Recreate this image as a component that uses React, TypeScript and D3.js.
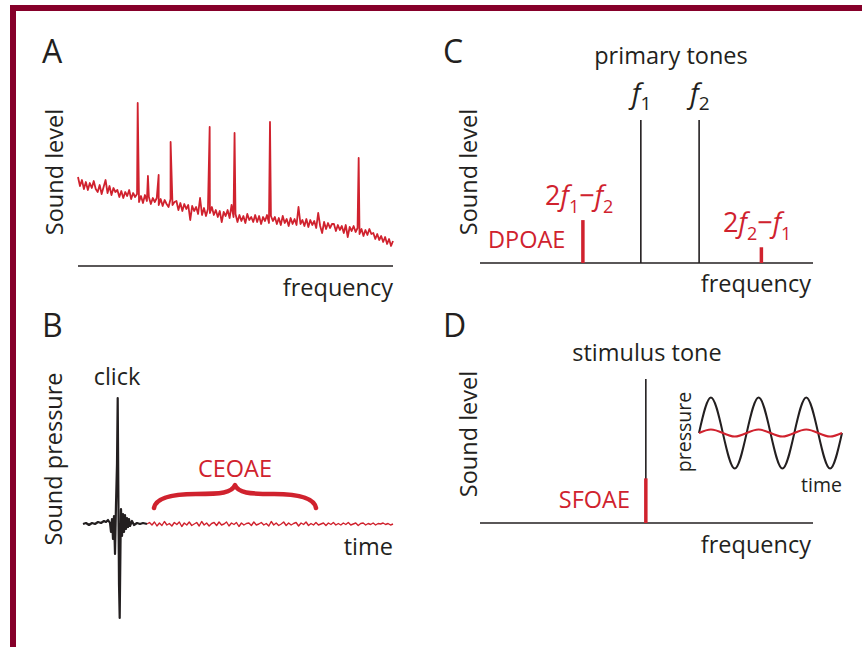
import React from 'react';
import * as d3 from 'd3';

const RED = '#d0222e';
const INK = '#231f20';
const MAROON = '#86002a';
const FONT = "'Open Sans', 'Noto Sans', sans-serif";

// ---------- Panel A: spontaneous emission spectrum ----------
const spectrumFreqStep = 0.625;
const spectrumNoise = [
  89, 80, 86, 77, 84, 76, 83, 78, 85, 77,
  74, 81, 72, 79, 86, 73, 80, 71, 78, 74,
  76, 69, 75, 68, 74, 70, 76, 67, 73, 69,
  72, 64, 70, 63, 71, 65, 69, 62, 68, 64,
  68, 61, 67, 60, 66, 62, 59, 67, 61, 64,
  65, 56, 63, 55, 62, 57, 61, 46, 60, 55,
  59, 52, 68, 51, 58, 50, 57, 53, 59, 51,
  56, 49, 55, 44, 54, 50, 56, 48, 61, 49,
  52, 44, 51, 45, 50, 43, 52, 46, 49, 44,
  51, 44, 50, 42, 49, 45, 51, 43, 50, 45,
  49, 42, 48, 41, 50, 43, 47, 40, 48, 42,
  47, 41, 59, 42, 46, 40, 47, 39, 46, 41,
  45, 38, 53, 40, 33, 44, 37, 43, 38, 42,
  42, 35, 41, 36, 40, 33, 41, 29, 39, 35,
  40, 34, 38, 32, 37, 30, 36, 31, 37, 32,
  33, 27, 32, 26, 30, 24, 29, 22, 27, 20, 25,
];
const spectrumPeakFreq = [18.95, 22.2, 25.6, 29.4, 41.8, 49.7, 60.95, 89.1];
const spectrumPeakLevel = [163, 90, 91, 124, 139, 133, 144, 108];

// ---------- Panel B: click-evoked emission ----------
const clickTime = [0, 3, 6, 9, 12, 15, 18, 21, 23, 25, 27, 28, 29, 30, 31, 32, 33, 34, 34.7, 35.3, 36, 36.7, 37.5, 38, 39, 40, 41, 42, 43, 44, 45, 46, 47, 49, 51, 54, 57, 60, 64];
const clickPressure = [0, 1, -1, 1, 0, 2, 1, 3, 2, 4, 1, -8, 5, -15, 8, -30, 20, 60, 126, 40, -60, -94, -20, 15, -12, 10, -8, 9, -5, 6, -3, 5, -2, 3, -1, 1, 0, 1, 0];
const ceoaeStartTime = 64;
const ceoaeTimeStep = 2.485;
const ceoaePressure = [
  0, 1.5, -1, 2, -2, 1, -1.5, 2.5, -1, 0.5, -2, 1.5, -0.5, 2, -2.5, 1, -1, 2, -1.5, 0,
  1.5, -2, 2.5, -1, 1, -2, 0.5, 1.5, -1.5, 2, -1, 0, 2, -2, 1, -0.5, 1.5, -2.5, 1, -1,
  0.5, 1, -1.5, 2, -1, 0, 1.5, -1, 0.5, -2, 2.5, -1, 1, -1.5, 0, 2, -1.5, 1, -1, 0.5,
  1.5, -2, 1, -0.5, 2, -1.5, 0.5, -1, 1.5, -1, 0, 1, -1.5, 1, -0.5, 1.5, -1, 0.5, -1, 1,
  -0.5, 1.5, -1, 0, 1, -1.5, 0.5, 1, -1, 0.5, -0.5, 1, -1, 0.5, 0, 1, -0.5, 0.5, -1, 0,
];
const ceoaeBraceTime = [71, 233];

// ---------- Panel C: distortion products ----------
const primaryNames = ['1', '2'];
const primaryFreq = [48.3, 65.8];
const primaryLevel = [100, 100];
const dpFreq = [30.9, 84.5];
const dpLevel = [30, 11];

// ---------- Panel D: stimulus-frequency emission ----------
const stimulusFreq = 49.8;
const stimulusLevel = 100;
const sfoaeLevel = 31;
const waveQuarter = [0, 1, 2, 3, 4, 5, 6, 7, 8, 9, 10, 11, 12];
const stimulusWave = [0, 1, 0, -1, 0, 1, 0, -1, 0, 1, 0, -1, 0];
const sfoaeWave = [0, 0.1, 0, -0.1, 0, 0.1, 0, -0.1, 0, 0.1, 0, -0.1, 0];

const txt = { fontFamily: FONT, fontSize: 23.5, fill: INK } as const;

export default function App() {
  // A
  const xA = d3.scaleLinear().domain([0, 100]).range([78, 393]);
  const yA = d3.scaleLinear().domain([0, 170]).range([266, 96]);
  const specPts: [number, number][] = spectrumNoise.map((v, i) => [i * spectrumFreqStep, v]);
  spectrumPeakFreq.forEach((f, i) => specPts.push([f, spectrumPeakLevel[i]]));
  specPts.sort((a, b) => a[0] - b[0]);
  const lineA = d3.line<[number, number]>().x(d => xA(d[0])).y(d => yA(d[1]));

  // B
  const xB = d3.scaleLinear().domain([0, 310]).range([83, 393]);
  const yB = d3.scaleLinear().domain([-100, 130]).range([624, 394]);
  const clickPts: [number, number][] = clickTime.map((t, i) => [t, clickPressure[i]]);
  const ceoaePts: [number, number][] = ceoaePressure.map((p, i) => [ceoaeStartTime + i * ceoaeTimeStep, p]);
  const lineB = d3.line<[number, number]>().x(d => xB(d[0])).y(d => yB(d[1]));
  const bx0 = xB(ceoaeBraceTime[0]);
  const bx1 = xB(ceoaeBraceTime[1]);
  const bm = (bx0 + bx1) / 2;
  const by = yB(16);
  const brace = `M${bx0},${by} C${bx0 + 2},${by - 11} ${bx0 + 20},${by - 14} ${bx0 + 42},${by - 14} C${bm - 14},${by - 14} ${bm - 3},${by - 15} ${bm},${by - 23} C${bm + 3},${by - 15} ${bm + 14},${by - 14} ${bx1 - 42},${by - 14} C${bx1 - 20},${by - 14} ${bx1 - 2},${by - 11} ${bx1},${by}`;

  // C
  const xC = d3.scaleLinear().domain([0, 100]).range([480, 813]);
  const yC = d3.scaleLinear().domain([0, 100]).range([263, 120]);

  // D
  const xD = d3.scaleLinear().domain([0, 100]).range([480, 813]);
  const yD = d3.scaleLinear().domain([0, 100]).range([523, 379]);
  const xW = d3.scaleLinear().domain([0, 12]).range([699, 842]);
  const yW = d3.scaleLinear().domain([-1, 1]).range([468.5, 397.5]);
  const waveLine = d3.line<number>().x((_, i) => xW(waveQuarter[i])).y(d => yW(d)).curve(d3.curveNatural);

  return (
    <svg width={862} height={647} style={{ position: 'absolute', left: 0, top: 0, background: '#fff' }}>
      {/* border */}
      <rect x={10} y={5} width={852} height={6} fill={MAROON} />
      <rect x={10} y={5} width={6} height={642} fill={MAROON} />

      {/* panel letters */}
      <text x={42} y={63} style={{ ...txt, fontSize: 32 }}>A</text>
      <text x={42} y={337} style={{ ...txt, fontSize: 32 }}>B</text>
      <text x={443} y={63} style={{ ...txt, fontSize: 32 }}>C</text>
      <text x={443} y={337} style={{ ...txt, fontSize: 32 }}>D</text>

      {/* ---------- A ---------- */}
      <text transform="translate(63,172) rotate(-90)" textAnchor="middle" style={txt}>Sound level</text>
      <line x1={xA.range()[0]} x2={xA.range()[1]} y1={yA(0)} y2={yA(0)} stroke={INK} strokeWidth={1.5} />
      <path d={lineA(specPts) || ''} fill="none" stroke={RED} strokeWidth={1.8} strokeLinejoin="round" />
      <text x={393} y={296} textAnchor="end" style={txt}>frequency</text>

      {/* ---------- B ---------- */}
      <text transform="translate(62,459) rotate(-90)" textAnchor="middle" style={txt}>Sound pressure</text>
      <text x={117} y={385} textAnchor="middle" style={txt}>click</text>
      <path d={lineB(ceoaePts) || ''} fill="none" stroke={RED} strokeWidth={1.4} strokeLinejoin="round" />
      <path d={lineB(clickPts) || ''} fill="none" stroke={INK} strokeWidth={2.2} strokeLinejoin="round" />
      <path d={brace} fill="none" stroke={RED} strokeWidth={4.5} strokeLinecap="round" strokeLinejoin="round" />
      <text x={235} y={477} textAnchor="middle" style={{ ...txt, fill: RED }}>CEOAE</text>
      <text x={393} y={555} textAnchor="end" style={txt}>time</text>

      {/* ---------- C ---------- */}
      <text transform="translate(477,172) rotate(-90)" textAnchor="middle" style={txt}>Sound level</text>
      <text x={671} y={64} textAnchor="middle" style={txt}>primary tones</text>
      <line x1={xC.range()[0]} x2={xC.range()[1]} y1={yC(0)} y2={yC(0)} stroke={INK} strokeWidth={1.5} />
      {primaryFreq.map((f, i) => (
        <g key={i}>
          <line x1={xC(f)} x2={xC(f)} y1={yC(0)} y2={yC(primaryLevel[i])} stroke={INK} strokeWidth={1.6} />
          <text x={xC(f) - 9} y={103} style={{ ...txt, fontSize: 28 }}>
            <tspan fontStyle="italic">f</tspan>
            <tspan fontSize={19} dy={7}>{primaryNames[i]}</tspan>
          </text>
        </g>
      ))}
      {dpFreq.map((f, i) => (
        <line key={i} x1={xC(f)} x2={xC(f)} y1={yC(0)} y2={yC(dpLevel[i])} stroke={RED} strokeWidth={3.5} />
      ))}
      <text x={545} y={205} style={{ ...txt, fill: RED, fontSize: 27 }}>
        2<tspan fontStyle="italic">f</tspan>
        <tspan fontSize={18} dy={8}>1</tspan>
        <tspan dy={-8}>−</tspan>
        <tspan fontStyle="italic">f</tspan>
        <tspan fontSize={18} dy={8}>2</tspan>
      </text>
      <text x={723} y={232} style={{ ...txt, fill: RED, fontSize: 27 }}>
        2<tspan fontStyle="italic">f</tspan>
        <tspan fontSize={18} dy={8}>2</tspan>
        <tspan dy={-8}>−</tspan>
        <tspan fontStyle="italic">f</tspan>
        <tspan fontSize={18} dy={8}>1</tspan>
      </text>
      <text x={488} y={248} style={{ ...txt, fill: RED }}>DPOAE</text>
      <text x={811} y={292} textAnchor="end" style={txt}>frequency</text>

      {/* ---------- D ---------- */}
      <text transform="translate(477,434) rotate(-90)" textAnchor="middle" style={txt}>Sound level</text>
      <text x={647} y={361} textAnchor="middle" style={txt}>stimulus tone</text>
      <line x1={xD.range()[0]} x2={xD.range()[1]} y1={yD(0)} y2={yD(0)} stroke={INK} strokeWidth={1.5} />
      <line x1={xD(stimulusFreq)} x2={xD(stimulusFreq)} y1={yD(0)} y2={yD(stimulusLevel)} stroke={INK} strokeWidth={1.6} />
      <line x1={xD(stimulusFreq)} x2={xD(stimulusFreq)} y1={yD(0)} y2={yD(sfoaeLevel)} stroke={RED} strokeWidth={3.5} />
      <text x={630} y={508} textAnchor="end" style={{ ...txt, fill: RED }}>SFOAE</text>
      <text x={811} y={553} textAnchor="end" style={txt}>frequency</text>
      {/* inset */}
      <path d={waveLine(stimulusWave) || ''} fill="none" stroke={INK} strokeWidth={2} />
      <path d={waveLine(sfoaeWave) || ''} fill="none" stroke={RED} strokeWidth={2} />
      <text transform="translate(691,432) rotate(-90)" textAnchor="middle" style={{ ...txt, fontSize: 19.5 }}>pressure</text>
      <text x={842} y={492} textAnchor="end" style={{ ...txt, fontSize: 19.5 }}>time</text>
    </svg>
  );
}
